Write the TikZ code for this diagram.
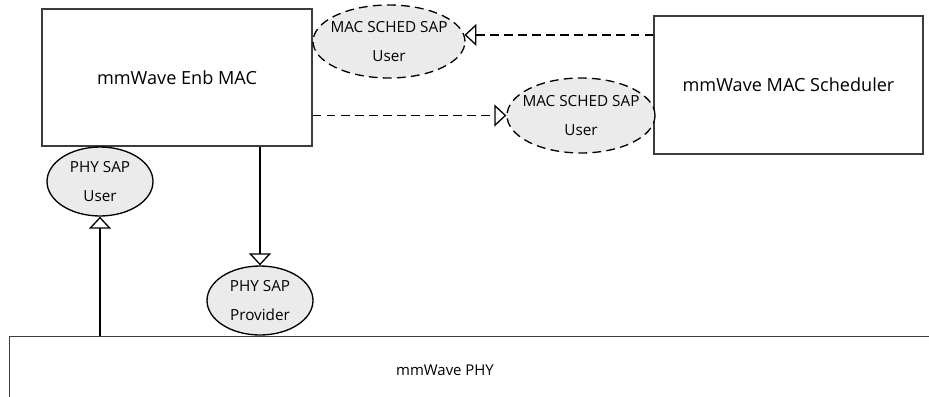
\documentclass[tikz,border=0pt]{standalone}
\usepackage{fontspec}
\setmainfont{Open Sans}
\usetikzlibrary{shapes.geometric, arrows.meta}
\definecolor{SapGray}{RGB}{235,235,235}
\definecolor{EdgeGray}{RGB}{60,60,60}

\begin{document}
\begin{tikzpicture}[x=0.02cm, y=-0.02cm,
      blk/.style={rectangle, draw=EdgeGray, line width=0.75pt, inner sep=0pt,
                  font=\fontsize{10.3}{12}\selectfont},
      sap/.style={ellipse, draw=black, fill=SapGray, line width=0.75pt,
                  inner xsep=-0.15cm, inner ysep=0pt,
                  align=center, font=\fontsize{8.7}{17}\selectfont},
      dsh/.style={dash pattern=on 5pt off 3pt},
      arr/.style={-{Triangle[open, length=0.24cm, width=0.44cm]}, draw=black, line width=0.75pt}
    ]
    \useasboundingbox (0,0) rectangle (929,396);

    % boxes
    \node[blk, minimum width=5.4cm, minimum height=2.74cm]  (mac)   at (177,77.5) {mmWave Enb MAC};
    \node[blk, minimum width=5.38cm, minimum height=2.76cm] (sched) at (788.5,85) {mmWave MAC Scheduler};
    \node[blk, anchor=north west, minimum width=20cm, minimum height=3cm] (phy) at (9,336) {};
    \node[font=\fontsize{8.5}{10}\selectfont] (phytext) at (445,370) {mmWave PHY};

    % SAPs
    \node[sap, dsh, minimum width=3.04cm, minimum height=1.46cm] (schedusr) at (389,41.5)
          {MAC SCHED SAP\\User};
    \node[sap, dsh, minimum width=2.96cm, minimum height=1.5cm] (schedprov) at (581,115.5)
          {MAC SCHED SAP\\User};
    \node[sap, minimum width=2.12cm, minimum height=1.38cm] (phyusr) at (100,181.5)
          {PHY SAP\\User};
    \node[sap, minimum width=2.12cm, minimum height=1.38cm] (phyprov) at (260,300.5)
          {PHY SAP\\Provider};

    % connectors
    \draw[arr, dsh] (sched.west |- schedusr.5) -- (schedusr.5);
    \draw[arr, dsh] (mac.east |- schedprov.west) -- (schedprov.west);
    \draw[arr] (phyprov.north |- mac.south) -- (phyprov.north);
    \draw[arr] (phyusr.south |- phy.north) -- (phyusr.south);
  \end{tikzpicture}
\end{document}
